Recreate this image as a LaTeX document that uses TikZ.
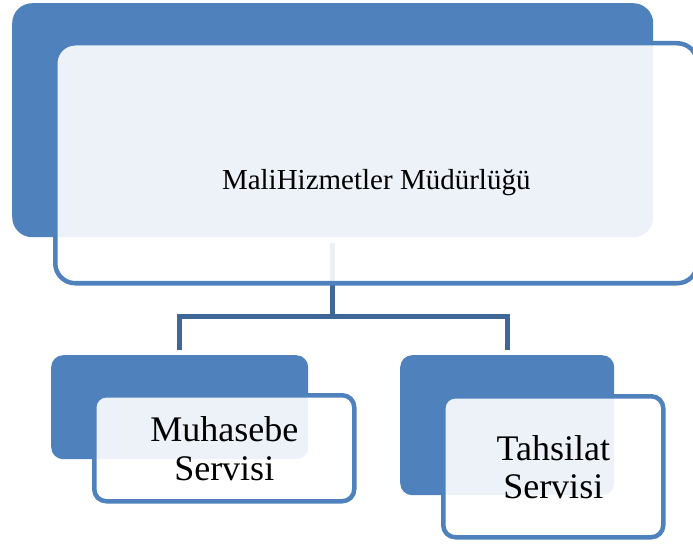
\documentclass[tikz,border=0pt]{standalone}
\usepackage{fontspec}
\setmainfont{Liberation Serif}
\usetikzlibrary{positioning}
\definecolor{smartblue}{RGB}{79,129,189}
\definecolor{linkblue}{RGB}{62,103,152}
\tikzset{
    back_box/.style={rectangle, fill=smartblue, anchor=north west, inner sep=0pt},
    front_box/.style={rectangle, draw=smartblue, line width=4.5pt, fill=white, fill opacity=0.9, text opacity=1, inner sep=0pt},
    link/.style={draw=linkblue, line width=5pt, shorten <=6pt, shorten >=5pt}
}

\begin{document}
\begin{tikzpicture}[x=1pt, y=-1pt]
    \useasboundingbox (0,0) rectangle (693,545);

    % Back boxes
    \node (mudurBack) [back_box, rounded corners=20pt, minimum width=641pt, minimum height=234pt] at (12,3) {};

    \node (muhasebeBack) [back_box, rounded corners=12pt, minimum width=257pt, minimum height=104pt] at (51,355) {};

    \node (tahsilatBack) [back_box, rounded corners=12pt, minimum width=214pt, minimum height=140pt] at (400,355) {};

    % Connections
    \draw [link] (mudurBack.south) -- ++(0,79.5) -| (muhasebeBack.north);
    \draw [link] (mudurBack.south) -- ++(0,79.5) -| (tahsilatBack.north);

    % Front boxes
    \node (mudur) [front_box, rounded corners=20pt, minimum width=642pt, minimum height=240pt, below right=38pt and 41pt of mudurBack.north west, font=\fontsize{29}{33}\selectfont, text height=52pt, text depth=0pt] {MaliHizmetler\ Müdürlüğü};

    \node (muhasebe) [front_box, rounded corners=12pt, minimum width=260pt, minimum height=106pt, below right=38pt and 41pt of muhasebeBack.north west, align=center, font=\fontsize{36}{39}\selectfont] {Muhasebe\\Servisi};

    \node (tahsilat) [front_box, rounded corners=12pt, minimum width=220pt, minimum height=141pt, below right=39pt and 41pt of tahsilatBack.north west, align=center, font=\fontsize{36}{38}\selectfont] {Tahsilat\\Servisi};
\end{tikzpicture}
\end{document}
